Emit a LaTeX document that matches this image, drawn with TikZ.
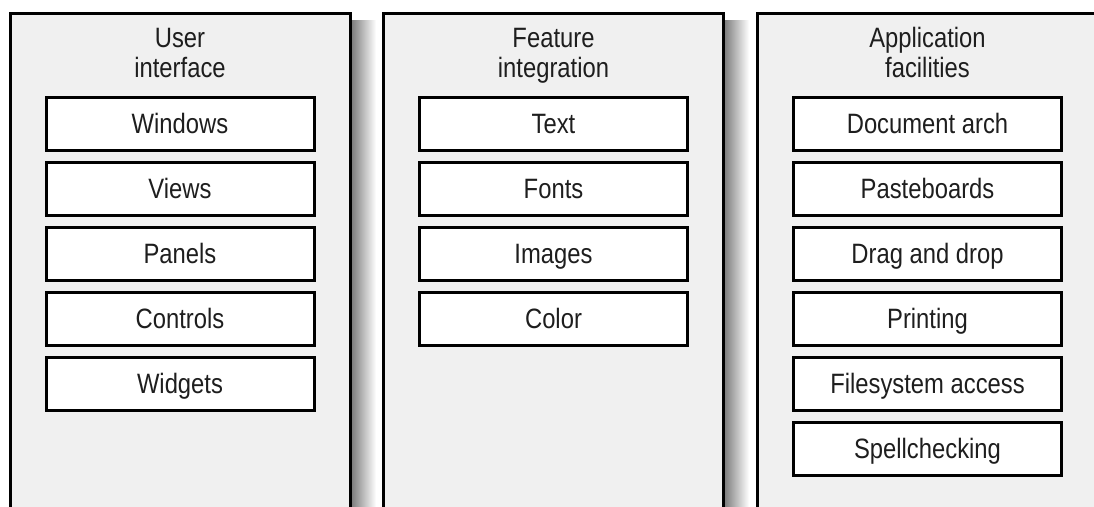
\documentclass[tikz,border=0pt]{standalone}
\usepackage{fontspec}
\setmainfont{Liberation Sans}[FakeStretch=0.85]
\usepackage{xcolor}
\usepackage{tikz}
\usetikzlibrary{positioning}

\definecolor{panelfill}{HTML}{F0F0F0}
\definecolor{inkgray}{HTML}{1E1E1E}

\tikzset{
  panel/.style={draw=black, line width=3pt, fill=panelfill, minimum width=340pt, minimum height=540pt, anchor=north, inner sep=0pt},
  paneltitle/.style={align=center, text=inkgray, font=\fontsize{28}{30}\selectfont, inner sep=0pt},
  itembox/.style={draw=black, line width=3pt, fill=white, minimum width=268pt, minimum height=53pt, inner sep=0pt,
    text height=22pt, text depth=4pt, text=inkgray, font=\fontsize{28}{30}\selectfont},
  panelshadow/.style={left color=black!50, right color=white}
}

\begin{document}
\begin{tikzpicture}[x=1pt,y=-1pt]
\useasboundingbox (0,0) rectangle (1094,506);
\clip (0,0) rectangle (1094,506);

% soft shadows right of the panels
\shade[panelshadow] (352,20) rectangle (376,530);
\shade[panelshadow] (725,20) rectangle (749,530);

\node[panel] (ui) at (180,12) {};
\node[panel] (fi) at (553.5,12) {};
\node[panel] (af) at (927.5,12) {};

\node[paneltitle] (uititle) at (180,56) {\strut User\\\strut interface};
\node[paneltitle] (fititle) at (553.5,56) {\strut Feature\\\strut integration};
\node[paneltitle] (aftitle) at (927.5,56) {\strut Application\\\strut facilities};

\foreach \name [count=\i] in {Windows,Views,Panels,Controls,Widgets}{
    \pgfmathsetmacro\cy{124 + 65*(\i - 1)};
    \node[itembox] (ui\i) at (180,\cy) {\name};
}
\foreach \name [count=\i] in {Text,Fonts,Images,Color}{
    \pgfmathsetmacro\cy{124 + 65*(\i - 1)};
    \node[itembox] (fi\i) at (553.5,\cy) {\name};
}
\foreach \name [count=\i] in {Document arch,Pasteboards,Drag and drop,Printing,Filesystem access,Spellchecking}{
    \pgfmathsetmacro\cy{124 + 65*(\i - 1)};
    \node[itembox] (af\i) at (927.5,\cy) {\name};
}
\end{tikzpicture}
\end{document}
